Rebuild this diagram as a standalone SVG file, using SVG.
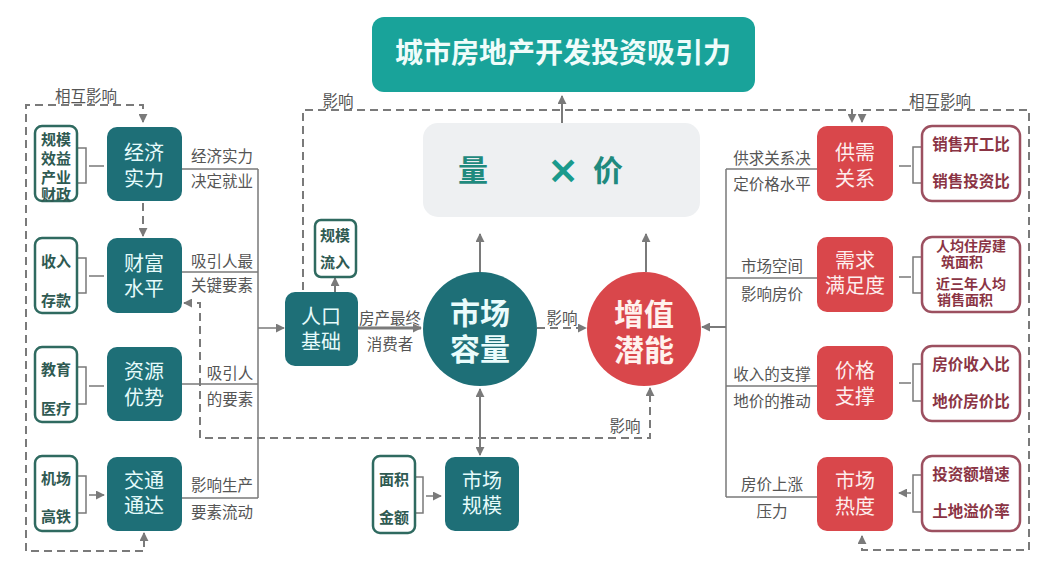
<svg xmlns="http://www.w3.org/2000/svg" width="1058" height="573" viewBox="0 0 1058 573">
<defs>
<marker id="ah" viewBox="0 0 10 10" refX="9" refY="5" markerWidth="9" markerHeight="9" markerUnits="userSpaceOnUse" orient="auto-start-reverse"><path d="M0,0 L10,5 L0,10 z" fill="#7a7a7a"/></marker>
</defs>
<style>
text{font-family:"Noto Sans CJK SC","Noto Sans",sans-serif;text-anchor:middle;dominant-baseline:central}
.t{fill:#1e6f77}
.r{fill:#d9474b}
.bt{fill:#e6fbfb;font-size:20px}
.br{fill:#fdeeee;font-size:20px}
.sw{fill:#fff;stroke:#2f6a60;stroke-width:2.5}
.st{fill:#2f5a52;font-size:15px;font-weight:bold}
.rw{fill:#fff;stroke:#9c5060;stroke-width:2.5}
.rt{fill:#8a3444;font-size:15.5px;font-weight:bold}
.lb{fill:#555;font-size:15.5px}
.ln{fill:none;stroke:#7a7a7a;stroke-width:1.5}
.ar{fill:none;stroke:#7a7a7a;stroke-width:2;marker-end:url(#ah)}
.da{fill:none;stroke:#7a7a7a;stroke-width:2;stroke-dasharray:8 5}
.ct{font-size:30px;font-weight:bold}
</style>
<rect width="1058" height="573" fill="#fff"/>
<g id="connectors">
<path class="da" d="M303,290 V110 H852 V122" marker-end="url(#ah)"/>
<path class="da" d="M862,122 V110 H1029 V550 H862 V536" marker-start="url(#ah)" marker-end="url(#ah)"/>
<path class="da" d="M143,122 V105 H26 V551 H144 V533" marker-start="url(#ah)" marker-end="url(#ah)"/>
<path class="da" d="M143,203 V236" marker-end="url(#ah)"/>
<path class="da" d="M184,303 H200 V438 H650 V388" marker-start="url(#ah)" marker-end="url(#ah)"/>
<path class="da" d="M537,328 H586" marker-end="url(#ah)"/>
<path class="ar" d="M562,123 V96"/>
<path class="ar" d="M358,328 H421" style="stroke-width:3"/>
<path class="ar" d="M335,292 V278"/>
<path class="ar" d="M480,272 V234"/>
<path class="ar" d="M646,272 V234"/>
<path class="ar" d="M480,389 V455" marker-start="url(#ah)"/>
<path class="ln" d="M182,169 H258 M182,272 H258 M182,384 H258 M182,498 H258 M258,169 V498"/>
<path class="ar" d="M258,328 H284" style="stroke-width:1.5"/>
<path class="ln" d="M817,169 H726 M817,278 H726 M817,386 H726 M817,497 H726 M726,169 V497"/>
<path class="ar" d="M726,327 H702"/>
<path class="ln" d="M77,148 H86 V183 H77 M77,258 H86 V293 H77 M77,367 H86 V404 H77 M77,476 H86 V513 H77"/>
<path class="ar" d="M89,166 H104 M89,276 H104 M89,386 H104 M89,495 H104" style="stroke-width:1.5"/>
<path class="ln" d="M922,147 H913 V183 H922 M922,257 H913 V293 H922 M922,364 H913 V401 H922 M922,475 H913 V512 H922"/>
<path class="ar" d="M911,166 H899 M911,277 H899 M911,383 H899 M911,493 H899" style="stroke-width:1.5"/>
<path class="ln" d="M415,477 H423 V513 H415"/>
<path class="ar" d="M426,496 H441" style="stroke-width:1.5"/>
</g>
<g id="labels">
<text class="lb" x="86" y="95">相互影响</text>
<text class="lb" x="338" y="100">影响</text>
<text class="lb" x="940" y="100">相互影响</text>
<text class="lb" x="562" y="317">影响</text>
<text class="lb" x="625" y="425">影响</text>
<text class="lb" x="390" y="317">房产最终</text>
<text class="lb" x="390" y="343">消费者</text>
<text class="lb" x="222" y="155">经济实力</text>
<text class="lb" x="222" y="180">决定就业</text>
<text class="lb" x="222" y="260">吸引人最</text>
<text class="lb" x="222" y="284">关键要素</text>
<text class="lb" x="230" y="372">吸引人</text>
<text class="lb" x="230" y="398">的要素</text>
<text class="lb" x="222" y="484">影响生产</text>
<text class="lb" x="222" y="511">要素流动</text>
<text class="lb" x="772" y="157">供求关系决</text>
<text class="lb" x="772" y="183">定价格水平</text>
<text class="lb" x="772" y="265">市场空间</text>
<text class="lb" x="772" y="293">影响房价</text>
<text class="lb" x="772" y="373">收入的支撑</text>
<text class="lb" x="772" y="400">地价的推动</text>
<text class="lb" x="772" y="483">房价上涨</text>
<text class="lb" x="772" y="510">压力</text>
</g>
<g id="title"><rect x="372" y="17" width="383" height="75" rx="12" fill="#19a39a"/><text x="563" y="51" style="fill:#effcfa;font-size:28px;font-weight:bold">城市房地产开发投资吸引力</text></g>
<g id="volprice"><rect x="423" y="123" width="277" height="94" rx="15" fill="#eef0f2"/><text x="473" y="168" style="fill:#1f8a7e;font-size:30px;font-weight:bold">量</text><text x="563" y="168" style="fill:#1a9a8c;font-size:36px;font-weight:bold">✕</text><text x="608" y="168" style="fill:#1f8a7e;font-size:30px;font-weight:bold">价</text></g>
<g id="n-capacity"><circle cx="480" cy="329" r="57" class="t"/><text class="ct" x="480" y="311" style="fill:#eafcfc">市场</text><text class="ct" x="480" y="347" style="fill:#eafcfc">容量</text></g>
<g id="n-potential"><circle cx="644" cy="329" r="57" class="r"/><text class="ct" x="644" y="312" style="fill:#fff2ee">增值</text><text class="ct" x="644" y="348" style="fill:#fff2ee">潜能</text></g>
<g id="n-pop"><rect x="285" y="292" width="73" height="74" rx="10" class="t"/><text class="bt" x="321" y="315">人口</text><text class="bt" x="321" y="340">基础</text></g>
<g id="n-inflow"><rect x="315" y="220" width="41" height="57" rx="6" class="sw"/><text class="st" x="335" y="234">规模</text><text class="st" x="335" y="261">流入</text></g>
<g id="n-scale"><rect x="445" y="457" width="74" height="74" rx="10" class="t"/><text class="bt" x="482" y="479">市场</text><text class="bt" x="482" y="504">规模</text></g>
<g id="n-area"><rect x="373" y="456" width="42" height="77" rx="7" class="sw"/><text class="st" x="394" y="478">面积</text><text class="st" x="394" y="516">金额</text></g>
<g id="n-econ"><rect x="107" y="127" width="75" height="74" rx="10" class="t"/><text class="bt" x="144" y="151">经济</text><text class="bt" x="144" y="177">实力</text></g>
<g id="n-wealth"><rect x="107" y="238" width="75" height="75" rx="10" class="t"/><text class="bt" x="144" y="262">财富</text><text class="bt" x="144" y="287">水平</text></g>
<g id="n-resource"><rect x="107" y="347" width="75" height="74" rx="10" class="t"/><text class="bt" x="144" y="370">资源</text><text class="bt" x="144" y="396">优势</text></g>
<g id="n-traffic"><rect x="107" y="457" width="75" height="74" rx="10" class="t"/><text class="bt" x="144" y="479">交通</text><text class="bt" x="144" y="504">通达</text></g>
<g id="s-econ"><rect x="35" y="126" width="42" height="75" rx="7" class="sw"/><text class="st" x="56" y="138">规模</text><text class="st" x="56" y="157">效益</text><text class="st" x="56" y="176">产业</text><text class="st" x="56" y="193">财政</text></g>
<g id="s-wealth"><rect x="35" y="238" width="42" height="75" rx="7" class="sw"/><text class="st" x="56" y="260">收入</text><text class="st" x="56" y="299">存款</text></g>
<g id="s-resource"><rect x="35" y="347" width="42" height="75" rx="7" class="sw"/><text class="st" x="56" y="368">教育</text><text class="st" x="56" y="407">医疗</text></g>
<g id="s-traffic"><rect x="35" y="456" width="42" height="75" rx="7" class="sw"/><text class="st" x="56" y="477">机场</text><text class="st" x="56" y="515">高铁</text></g>
<g id="n-supply"><rect x="817" y="126" width="76" height="75" rx="10" class="r"/><text class="br" x="855" y="151">供需</text><text class="br" x="855" y="177">关系</text></g>
<g id="n-demand"><rect x="817" y="237" width="76" height="75" rx="10" class="r"/><text class="br" x="855" y="259">需求</text><text class="br" x="855" y="284">满足度</text></g>
<g id="n-price"><rect x="817" y="346" width="76" height="74" rx="10" class="r"/><text class="br" x="855" y="369">价格</text><text class="br" x="855" y="395">支撑</text></g>
<g id="n-heat"><rect x="817" y="457" width="76" height="74" rx="10" class="r"/><text class="br" x="855" y="479">市场</text><text class="br" x="855" y="505">热度</text></g>
<g id="s-supply"><rect x="922" y="126" width="98" height="75" rx="10" class="rw"/><text class="rt" x="971" y="143">销售开工比</text><text class="rt" x="971" y="180">销售投资比</text></g>
<g id="s-demand"><rect x="922" y="237" width="98" height="75" rx="10" class="rw"/><text class="rt" x="971" y="245" style="font-size:14px">人均住房建</text><text class="rt" x="962" y="261" style="font-size:14px">筑面积</text><text class="rt" x="971" y="283" style="font-size:14px">近三年人均</text><text class="rt" x="965" y="299" style="font-size:14px">销售面积</text></g>
<g id="s-price"><rect x="922" y="346" width="98" height="75" rx="10" class="rw"/><text class="rt" x="971" y="363">房价收入比</text><text class="rt" x="971" y="400">地价房价比</text></g>
<g id="s-heat"><rect x="922" y="456" width="98" height="75" rx="10" class="rw"/><text class="rt" x="971" y="473">投资额增速</text><text class="rt" x="971" y="510">土地溢价率</text></g>
</svg>
